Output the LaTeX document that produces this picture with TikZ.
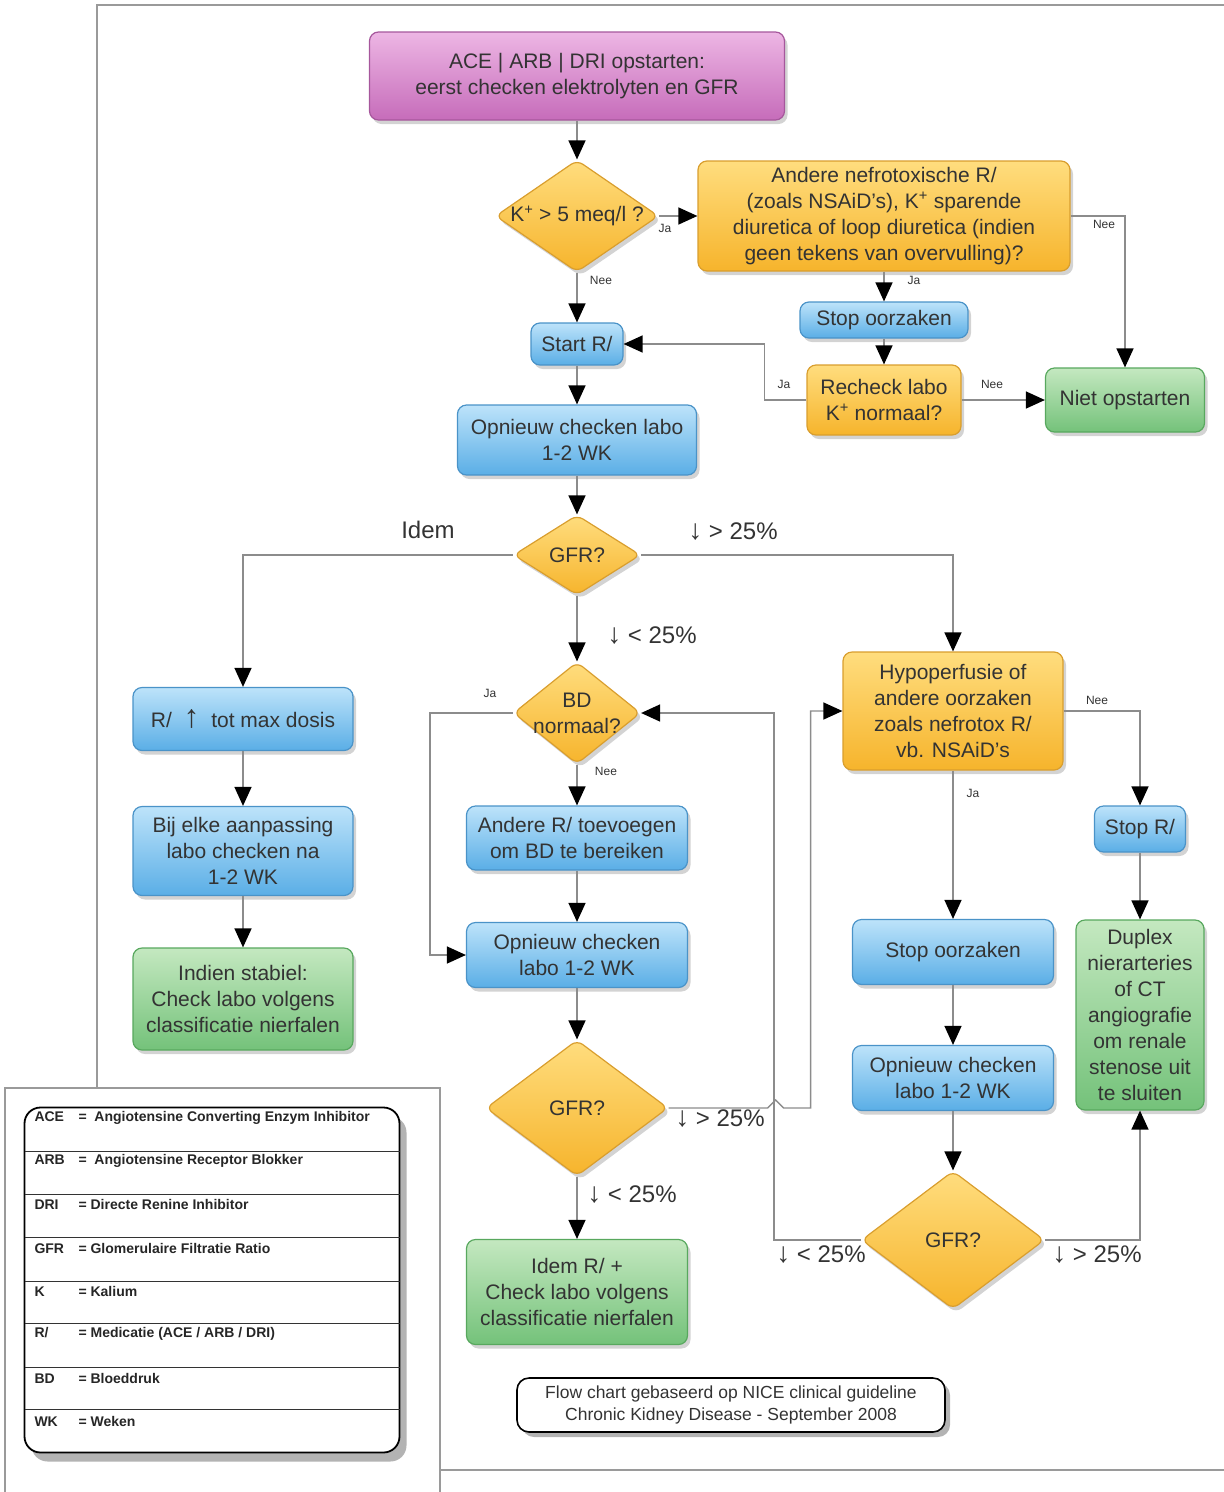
\documentclass[tikz,border=0pt]{standalone}
\usepackage{fontspec}
\setmainfont{Liberation Sans}
\usepackage{tikz}
\usetikzlibrary{shapes.geometric,arrows.meta,shadows}

\definecolor{txt}{HTML}{333333}
\definecolor{linegray}{HTML}{8C8C8C}
\definecolor{framegray}{HTML}{9A9A9A}
\definecolor{bluetop}{HTML}{BDE3FA}
\definecolor{bluebot}{HTML}{5AAEE6}
\definecolor{blueline}{HTML}{4A93C8}
\definecolor{orgtop}{HTML}{FFDD7E}
\definecolor{orgbot}{HTML}{F6B42C}
\definecolor{orgline}{HTML}{D99E2E}
\definecolor{grntop}{HTML}{C4E8C0}
\definecolor{grnbot}{HTML}{74C27A}
\definecolor{grnline}{HTML}{58A85E}
\definecolor{purtop}{HTML}{EDB6E4}
\definecolor{purbot}{HTML}{C66CBA}
\definecolor{purline}{HTML}{A6579C}

\def\flow{\draw[conn]}
\def\ktxt{K\textsuperscript{+}}
\def\legab#1{\makebox[44pt][l]{#1}}
\def\dn{{\fontsize{28}{24}\selectfont ↓}}
\def\up{{\fontsize{32}{26}\selectfont ↑}}

\tikzset{
  sz/.style 2 args={minimum width=#1pt, minimum height=#2pt},
  conn/.style={draw=linegray, line width=1.4pt, -{Triangle[length=19pt,width=17pt,color=black]}},
  frame/.style={draw=framegray, line width=1.5pt},
  box/.style={rectangle, rounded corners=9pt, align=center, text=txt, inner sep=2pt,
    font=\fontsize{21}{26}\selectfont, line width=1.2pt,
    drop shadow={shadow xshift=3pt, shadow yshift=-4pt, opacity=.35}},
  bluebox/.style={box, draw=blueline, top color=bluetop, bottom color=bluebot},
  orgbox/.style={box, draw=orgline, top color=orgtop, bottom color=orgbot},
  grnbox/.style={box, draw=grnline, top color=grntop, bottom color=grnbot},
  purbox/.style={box, draw=purline, top color=purtop, bottom color=purbot},
  dectext/.style={align=center, text=txt, font=\fontsize{21}{26}\selectfont},
  dec/.style={diamond, rounded corners=7pt, draw=orgline, line width=1.2pt, inner sep=0pt,
    top color=orgtop, bottom color=orgbot,
    drop shadow={shadow xshift=3pt, shadow yshift=-4pt, opacity=.35},
    label={[dectext]center:#1}},
  yn/.style={font=\fontsize{12}{12}\selectfont, text=txt},
  pct/.style={font=\fontsize{24}{24}\selectfont, text=txt},
  foot/.style={rectangle, rounded corners=12pt, draw=black, line width=1.6pt, fill=white,
    align=center, text=txt, font=\fontsize{17.5}{22}\selectfont,
    drop shadow={shadow xshift=5pt, shadow yshift=-5pt, opacity=.6}},
  legbox/.style={rectangle, rounded corners=16pt, draw=black, line width=1.8pt, fill=white,
    drop shadow={shadow xshift=7pt, shadow yshift=-9pt, opacity=.6}},
  legline/.style={draw=black!80, line width=1pt},
  legtext/.style={anchor=west, font=\bfseries\fontsize{14}{14}\selectfont, text=black!85}
}

\begin{document}
\begin{tikzpicture}[x=1pt,y=-1pt]
\useasboundingbox (0,0) rectangle (1224,1492);

% frame and legend frame
\draw[frame] (1224,5) -- (97,5) -- (97,1088);
\draw[frame] (440,1470) -- (1224,1470);
\draw[frame] (5,1492) -- (5,1088) -- (440,1088) -- (440,1492);

% top part
\node[purbox, sz={415}{88}] (top) at (577,76) {ACE | ARB | DRI opstarten:\\eerst checken elektrolyten en GFR};
\node[dec={\ktxt{} > 5 meq/l ?}, sz={163}{112}] (kdia) at (577,216) {};
\node[orgbox, sz={372}{110}] (andere) at (884,216) {Andere nefrotoxische R/\\(zoals NSAiD's), \ktxt{} sparende\\diuretica of loop diuretica (indien\\geen tekens van overvulling)?};
\node[bluebox, sz={168}{36}] (stopoz) at (884,320) {Stop oorzaken};
\node[orgbox, sz={154}{70}] (recheck) at (884,400) {Recheck labo\\\ktxt{} normaal?};
\node[grnbox, sz={159}{64}] (niet) at (1125,400) {Niet opstarten};
\node[bluebox, sz={92}{42}] (startr) at (577,344) {Start R/};
\node[bluebox, sz={239}{70}] (labo1) at (577,440) {Opnieuw checken labo\\1-2 WK};
\node[dec={GFR?}, sz={127}{80}] (gfr1) at (577,555) {};

% left column
\node[bluebox, sz={220}{63}] (maxdos) at (243,719) {R/ \ \up{} \ tot max dosis};
\node[bluebox, sz={220}{89}] (aanpas) at (243,851) {Bij elke aanpassing\\labo checken na\\1-2 WK};
\node[grnbox, sz={220}{102}] (stabiel) at (243,999) {Indien stabiel:\\Check labo volgens\\classificatie nierfalen};

% middle column
\node[dec={BD\\normaal?}, sz={127}{102}] (bd) at (577,713) {};
\node[bluebox, sz={221}{64}] (toevoeg) at (577,838) {Andere R/ toevoegen\\om BD te bereiken};
\node[bluebox, sz={221}{65}] (labo2) at (577,955) {Opnieuw checken\\labo 1-2 WK};
\node[dec={GFR?}, sz={182}{136}] (gfr2) at (577,1108) {};
\node[grnbox, sz={221}{105}] (idemr) at (577,1292) {Idem R/ +\\Check labo volgens\\classificatie nierfalen};

% right column
\node[orgbox, sz={220}{118}] (hypo) at (953,711) {Hypoperfusie of\\andere oorzaken\\zoals nefrotox R/\\vb. NSAiD's};
\node[bluebox, sz={91}{46}] (stopr) at (1140,829) {Stop R/};
\node[grnbox, sz={128}{190}] (duplex) at (1140,1015) {Duplex\\nierarteries\\of CT\\angiografie\\om renale\\stenose uit\\te sluiten};
\node[bluebox, sz={201}{65}] (stopoz2) at (953,952) {Stop oorzaken};
\node[bluebox, sz={201}{65}] (labo3) at (953,1078) {Opnieuw checken\\labo 1-2 WK};
\node[dec={GFR?}, sz={183}{138}] (gfr3) at (953,1240) {};

% connectors
\flow (top) -- (kdia);
\flow (kdia) -- (andere);
\flow (kdia) -- (startr);
\flow (andere.south) -- (stopoz.north);
\flow (andere.east) -| (niet.north);
\flow (stopoz) -- (recheck);
\flow (recheck.west) -- ++(-42,0) |- (startr.east);
\flow (recheck) -- (niet);
\flow (startr) -- (labo1);
\flow (labo1) -- (gfr1);
\flow (gfr1.west) -| (maxdos.north);
\flow (gfr1.east) -| (hypo.north);
\flow (gfr1) -- (bd);
\flow (maxdos) -- (aanpas);
\flow (aanpas) -- (stabiel);
\flow (bd.west) -- ++(-83,0) |- (labo2.west);
\flow (bd) -- (toevoeg);
\flow (toevoeg) -- (labo2);
\flow (labo2) -- (gfr2);
\flow (gfr2) -- (idemr);
\flow (gfr2.east) -- ++(99,0) -- ++(8,-8) -- ++(8,8) -- ++(27,0) |- (hypo.west);
\flow (gfr3.west) -- ++(-87,0) |- (bd.east);
\flow (gfr3.east) -| (duplex.south);
\flow (hypo) -- (stopoz2);
\flow (hypo.east) -| (stopr.north);
\flow (stopr) -- (duplex);
\flow (stopoz2) -- (labo3);
\flow (labo3) -- (gfr3);

% connector labels
\node[yn] (ja1) at (665,228) {Ja};
\node[yn] (nee1) at (601,280) {Nee};
\node[yn] (ja2) at (914,280) {Ja};
\node[yn] (nee2) at (1104,224) {Nee};
\node[yn] (ja3) at (784,384) {Ja};
\node[yn] (nee3) at (992,384) {Nee};
\node[yn] (ja4) at (490,693) {Ja};
\node[yn] (nee4) at (606,771) {Nee};
\node[yn] (nee5) at (1097,700) {Nee};
\node[yn] (ja5) at (973,793) {Ja};
\node[pct] (idem) at (428,530) {Idem};
\node[pct] (up1) at (733,532) {\dn{} > 25\%};
\node[pct] (lo1) at (652,636) {\dn{} < 25\%};
\node[pct] (up2) at (720,1119) {\dn{} > 25\%};
\node[pct] (lo2) at (632,1195) {\dn{} < 25\%};
\node[pct] (lo3) at (821,1255) {\dn{} < 25\%};
\node[pct] (up3) at (1097,1255) {\dn{} > 25\%};

% footer
\node[foot, sz={428}{54}] (footer) at (731,1405) {Flow chart gebaseerd op NICE clinical guideline\\Chronic Kidney Disease - September 2008};

% legend
\node[legbox, sz={375}{345}] (legend) at (212,1280) {};
\draw[legline] (25,1151) -- (400,1151);
\draw[legline] (25,1194) -- (400,1194);
\draw[legline] (25,1237) -- (400,1237);
\draw[legline] (25,1281) -- (400,1281);
\draw[legline] (25,1323) -- (400,1323);
\draw[legline] (25,1367) -- (400,1367);
\draw[legline] (25,1409) -- (400,1409);
\node[legtext] (lace) at (31,1118) {\legab{ACE}= \ Angiotensine Converting Enzym Inhibitor};
\node[legtext] (larb) at (31,1161) {\legab{ARB}= \ Angiotensine Receptor Blokker};
\node[legtext] (ldri) at (31,1204) {\legab{DRI}= Directe Renine Inhibitor};
\node[legtext] (lgfr) at (31,1248) {\legab{GFR}= Glomerulaire Filtratie Ratio};
\node[legtext] (lk) at (31,1291) {\legab{K}= Kalium};
\node[legtext] (lr) at (31,1334) {\legab{R/}= Medicatie (ACE / ARB / DRI)};
\node[legtext] (lbd) at (31,1378) {\legab{BD}= Bloeddruk};
\node[legtext] (lwk) at (31,1421) {\legab{WK}= Weken};
\end{tikzpicture}
\end{document}
